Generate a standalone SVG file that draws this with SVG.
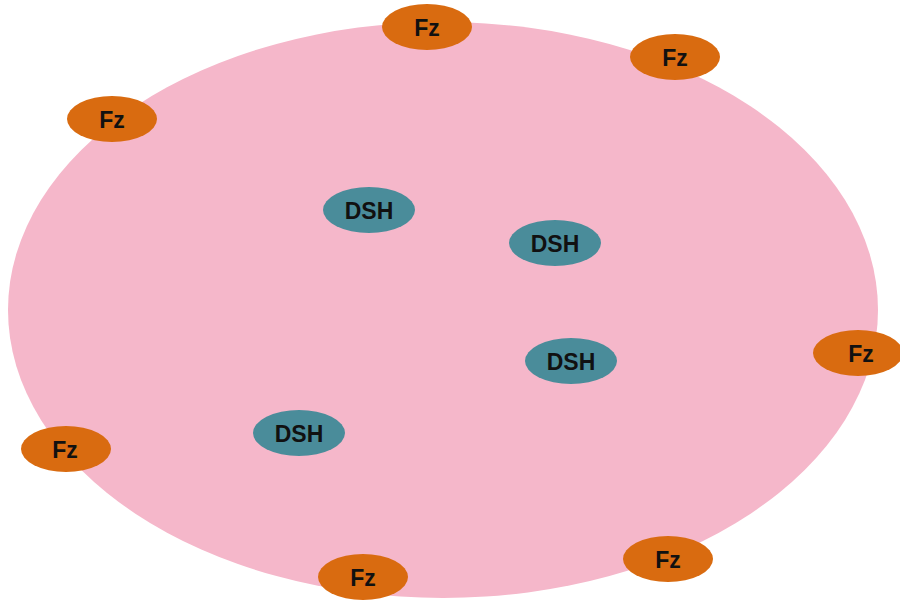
<svg xmlns="http://www.w3.org/2000/svg" width="900" height="600" viewBox="0 0 900 600">
<style>
.fz{fill:#D96B10}
.dsh{fill:#4A8C9A}
text{font-family:"Liberation Sans",Arial,sans-serif;font-weight:bold;font-size:23px;fill:#111;text-anchor:middle;dominant-baseline:central}
</style>
<rect width="900" height="600" fill="#ffffff"/>
<g id="region"><ellipse cx="443" cy="310" rx="435" ry="288" fill="#F5B7CA"/></g>
<g id="connectors"></g>
<g id="dsh1"><ellipse class="dsh" cx="369" cy="210" rx="46" ry="23"/><text x="369" y="211">DSH</text></g>
<g id="dsh2"><ellipse class="dsh" cx="555" cy="243" rx="46" ry="23"/><text x="555" y="244">DSH</text></g>
<g id="dsh3"><ellipse class="dsh" cx="571" cy="361" rx="46" ry="23"/><text x="571" y="362">DSH</text></g>
<g id="dsh4"><ellipse class="dsh" cx="299" cy="433" rx="46" ry="23"/><text x="299" y="434">DSH</text></g>
<g id="fz1"><ellipse class="fz" cx="427" cy="27" rx="45" ry="23"/><text x="427" y="28">Fz</text></g>
<g id="fz2"><ellipse class="fz" cx="675" cy="57" rx="45" ry="23"/><text x="675" y="58">Fz</text></g>
<g id="fz3"><ellipse class="fz" cx="112" cy="119" rx="45" ry="23"/><text x="112" y="120">Fz</text></g>
<g id="fz4"><ellipse class="fz" cx="858" cy="353" rx="45" ry="23"/><text x="861" y="354">Fz</text></g>
<g id="fz5"><ellipse class="fz" cx="66" cy="449" rx="45" ry="23"/><text x="65" y="450">Fz</text></g>
<g id="fz6"><ellipse class="fz" cx="363" cy="577" rx="45" ry="23"/><text x="363" y="578">Fz</text></g>
<g id="fz7"><ellipse class="fz" cx="668" cy="559" rx="45" ry="23"/><text x="668" y="560">Fz</text></g>
</svg>
